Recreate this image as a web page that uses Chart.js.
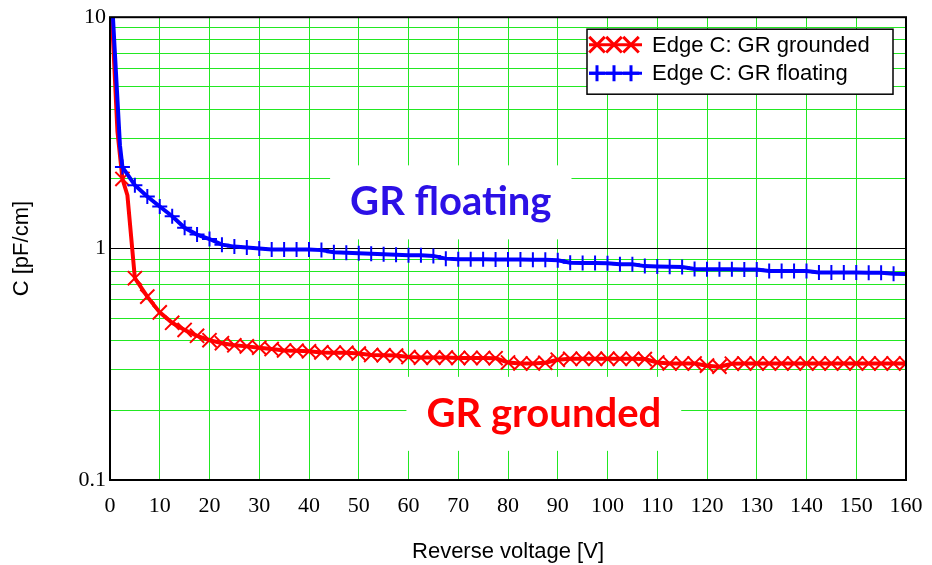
<!DOCTYPE html>
<html>
<head>
<meta charset="utf-8">
<title>Edge C vs reverse voltage</title>
<script src="https://cdn.jsdelivr.net/npm/chart.js@4.4.1/dist/chart.umd.min.js"></script>
<style>
  html, body { margin: 0; padding: 0; background: #fff; }
  #wrap { width: 932px; height: 565px; }
</style>
</head>
<body>
<div id="wrap"><canvas id="myChart" width="932" height="565"></canvas></div>
<script>
"use strict";
// =================================== 数据 =================================== //
// GR grounded (red, x markers)
var aVoltGrounded = [0, 1.5, 2.5, 3.5, 5, 7.5, 10, 12.5, 15, 17.5, 20, 22.5, 25, 27.5, 30, 32.5, 35, 37.5, 40,
    42.5, 45, 47.5, 50, 52.5, 55, 57.5, 60, 62.5, 65, 67.5, 70, 72.5, 75, 77.5, 80, 82.5, 85, 87.5, 90,
    92.5, 95, 97.5, 100, 102.5, 105, 107.5, 110, 112.5, 115, 117.5, 120, 122.5, 125, 127.5, 130, 132.5,
    135, 137.5, 140, 142.5, 145, 147.5, 150, 152.5, 155, 157.5, 160];
var aCapGrounded = [15, 3.2, 2.0, 1.7, 0.745, 0.62, 0.53, 0.478, 0.445, 0.42, 0.402, 0.39, 0.382, 0.378, 0.373, 0.368, 0.363, 0.362, 0.36,
    0.356, 0.355, 0.355, 0.352, 0.347, 0.346, 0.345, 0.34, 0.338, 0.338, 0.338, 0.337, 0.337, 0.337, 0.336, 0.322, 0.319, 0.319, 0.321, 0.331,
    0.334, 0.334, 0.334, 0.334, 0.334, 0.334, 0.333, 0.322, 0.319, 0.319, 0.319, 0.312, 0.309, 0.318, 0.319, 0.319, 0.319,
    0.319, 0.319, 0.319, 0.319, 0.319, 0.319, 0.319, 0.319, 0.319, 0.319, 0.319];
// GR floating (blue, + markers)
var aVoltFloating = [0, 2, 2.5, 5, 7.5, 10, 12.5, 15, 17.5, 20, 22.5, 25, 27.5, 30, 32.5, 35, 37.5, 40,
    42.5, 45, 47.5, 50, 52.5, 55, 57.5, 60, 62.5, 65, 67.5, 70, 72.5, 75, 77.5, 80, 82.5, 85, 87.5, 90,
    92.5, 95, 97.5, 100, 102.5, 105, 107.5, 110, 112.5, 115, 117.5, 120, 122.5, 125, 127.5, 130, 132.5,
    135, 137.5, 140, 142.5, 145, 147.5, 150, 152.5, 155, 157.5, 160];
var aCapFloating = [17, 2.8, 2.25, 1.88, 1.68, 1.52, 1.38, 1.23, 1.15, 1.10, 1.04, 1.02, 1.01, 1.0, 0.99, 0.99, 0.99, 0.99,
    0.985, 0.965, 0.96, 0.955, 0.95, 0.945, 0.94, 0.935, 0.935, 0.93, 0.905, 0.90, 0.90, 0.90, 0.898, 0.897, 0.897, 0.896, 0.895, 0.89,
    0.868, 0.867, 0.866, 0.864, 0.856, 0.855, 0.84, 0.837, 0.834, 0.832, 0.816, 0.814, 0.814, 0.814, 0.813, 0.812, 0.80,
    0.80, 0.80, 0.80, 0.788, 0.788, 0.788, 0.788, 0.787, 0.787, 0.778, 0.777];

var aSeriesNames = ["Edge C: GR grounded", "Edge C: GR floating"];
var aXTicks = [0, 10, 20, 30, 40, 50, 60, 70, 80, 90, 100, 110, 120, 130, 140, 150, 160];
var aYTicks = [0.1, 0.2, 0.3, 0.4, 0.5, 0.6, 0.7, 0.8, 0.9, 1, 2, 3, 4, 5, 6, 7, 8, 9, 10];
var aYLabels = [0.1, 1, 10];
// 图中文字标注 (x: V, y: baseline in pF/cm)
var aNotes = [
    {text: "GR floating", x: 68.5, y: 1.392, color: "#2c10e6"},
    {text: "GR grounded", x: 87.2, y: 0.1697, color: "#ff0000"}
];

// =================================== 方法 =================================== //
var GREEN = "#22e822";

function toPoints(aX, aY) {
    return aX.map(function (v, i) { return {x: v, y: aY[i]}; });
}
// markers only on the 2.5 V grid
function markerRadius(r) {
    return function (ctx) {
        var v = ctx.raw ? ctx.raw.x : 0;
        return (v >= 2.5 && v % 2.5 === 0) ? r : 0;
    };
}

// 标注、边框、图例
var decoPlugin = {
    id: "deco",
    beforeDatasetsDraw: function (chart) {
        var ctx = chart.ctx, xs = chart.scales.x, ys = chart.scales.y;
        ctx.save();
        ctx.font = "bold 40px Lato";
        aNotes.forEach(function (n) {
            var w = ctx.measureText(n.text).width;
            var cx = xs.getPixelForValue(n.x), by = ys.getPixelForValue(n.y);
            ctx.fillStyle = "#fff";
            ctx.fillRect(cx - w / 2 - 20, by - 50, w + 40, 74);
            ctx.fillStyle = n.color;
            ctx.textAlign = "center";
            ctx.textBaseline = "alphabetic";
            ctx.fillText(n.text, cx, by);
        });
        ctx.restore();
    },
    afterDatasetsDraw: function (chart) {
        var ctx = chart.ctx, a = chart.chartArea;
        ctx.save();
        ctx.strokeStyle = "#000";
        ctx.lineWidth = 2;
        ctx.strokeRect(a.left, a.top, a.right - a.left, a.bottom - a.top);

        // legend
        var bx = a.right - 319, by = a.top + 12, bw = 306, bh = 65;
        ctx.fillStyle = "#fff";
        ctx.fillRect(bx, by, bw, bh);
        ctx.lineWidth = 1.5;
        ctx.strokeRect(bx, by, bw, bh);
        chart.data.datasets.forEach(function (ds, i) {
            var y = by + 15.5 + i * 28.5;
            ctx.strokeStyle = ds.borderColor;
            ctx.lineWidth = 3;
            ctx.beginPath();
            ctx.moveTo(bx + 2, y);
            ctx.lineTo(bx + 55, y);
            ctx.stroke();
            [10, 27, 44].forEach(function (dx) {
                Chart.helpers.drawPoint(ctx, {
                    pointStyle: ds.pointStyle,
                    radius: ds.pointStyle === "crossRot" ? 11 : 8,
                    rotation: 0,
                    borderWidth: 2
                }, bx + dx, y);
            });
            ctx.fillStyle = "#000";
            ctx.font = "22px 'Liberation Sans'";
            ctx.textAlign = "left";
            ctx.textBaseline = "middle";
            ctx.fillText(ds.label, bx + 65, y + 1);
        });
        ctx.restore();
    }
};

function initChart() {
    var ctx = document.getElementById("myChart");
    var chart = new Chart(ctx, {
        type: "line",
        data: {
            datasets: [
                {
                    label: aSeriesNames[0],
                    data: toPoints(aVoltGrounded, aCapGrounded),
                    borderColor: "#ff0000",
                    backgroundColor: "#ff0000",
                    borderWidth: 4,
                    pointStyle: "crossRot",
                    pointRadius: markerRadius(10),
                    pointBorderWidth: 2,
                    clip: 0,
                    order: 1
                },
                {
                    label: aSeriesNames[1],
                    data: toPoints(aVoltFloating, aCapFloating),
                    borderColor: "#0000ff",
                    backgroundColor: "#0000ff",
                    borderWidth: 4,
                    pointStyle: "cross",
                    pointRadius: markerRadius(7.5),
                    pointBorderWidth: 2,
                    clip: 0,
                    order: 0
                }
            ]
        },
        options: {
            responsive: false,
            animation: false,
            events: [],
            layout: {padding: {top: 16, right: 26, bottom: 0, left: 0}},
            elements: {line: {tension: 0}},
            plugins: {legend: {display: false}, tooltip: {enabled: false}},
            scales: {
                x: {
                    type: "linear",
                    min: 0,
                    max: 160,
                    afterBuildTicks: function (scale) {
                        scale.ticks = aXTicks.map(function (v) { return {value: v}; });
                    },
                    afterFit: function (scale) {
                        scale.height = 85;
                        scale.paddingLeft = 0;
                        scale.paddingRight = 0;
                    },
                    grid: {color: GREEN, lineWidth: 1, drawTicks: false},
                    border: {display: false},
                    ticks: {
                        autoSkip: false,
                        maxRotation: 0,
                        padding: 13,
                        color: "#000",
                        font: {family: "'Liberation Serif'", size: 22}
                    },
                    title: {
                        display: true,
                        text: "Reverse voltage [V]",
                        color: "#000",
                        font: {family: "'Liberation Sans'", size: 22},
                        padding: {top: 0, bottom: 0}
                    }
                },
                y: {
                    type: "logarithmic",
                    min: 0.1,
                    max: 10,
                    afterBuildTicks: function (scale) {
                        scale.ticks = aYTicks.map(function (v) { return {value: v}; });
                    },
                    afterFit: function (scale) { scale.width = 110; },
                    grid: {
                        color: function (c) { return c.tick && c.tick.value === 1 ? "#000" : GREEN; },
                        lineWidth: 1,
                        drawTicks: false
                    },
                    border: {display: false},
                    ticks: {
                        autoSkip: false,
                        padding: 4,
                        color: "#000",
                        font: {family: "'Liberation Serif'", size: 22},
                        callback: function (v) { return aYLabels.indexOf(v) >= 0 ? String(v) : ""; }
                    },
                    title: {
                        display: true,
                        text: "C [pF/cm]",
                        color: "#000",
                        font: {family: "'Liberation Sans'", size: 22},
                        padding: {top: 9, bottom: 0}
                    }
                }
            }
        },
        plugins: [decoPlugin]
    });
}

initChart();
</script>
</body>
</html>
